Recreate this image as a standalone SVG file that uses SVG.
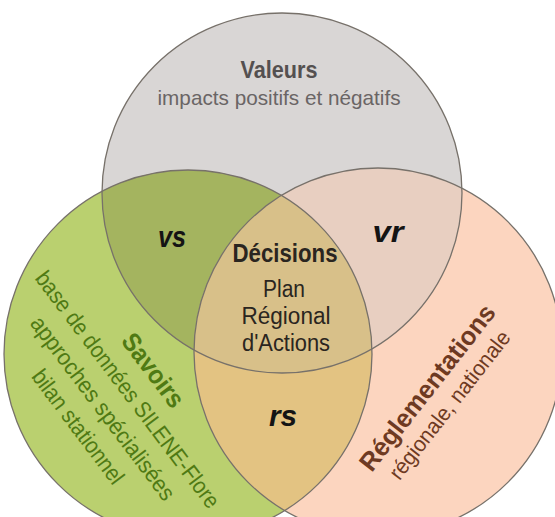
<svg xmlns="http://www.w3.org/2000/svg" xmlns:xlink="http://www.w3.org/1999/xlink" width="555" height="517" viewBox="0 0 555 517">
  <style>
    .ring { fill: none; stroke: #77716a; stroke-width: 1.3; }
    .t { font-family: "Liberation Sans", Arial, sans-serif; text-anchor: middle; }
    .b { font-weight: bold; }
    .pair { font-weight: bold; font-style: italic; font-size: 29px; fill: #141414; }
    .center { fill: #2a2520; }
    .sav { fill: #4f7a14; }
    .reg { fill: #6e3a22; }
  </style>
  <defs>
    <circle id="cV" cx="282" cy="193" r="180"/>
    <circle id="cS" cx="188" cy="354" r="184"/>
    <circle id="cR" cx="378" cy="352" r="184"/>
    <clipPath id="clipV"><use xlink:href="#cV"/></clipPath>
    <clipPath id="clipS"><use xlink:href="#cS"/></clipPath>
    <clipPath id="clipR"><use xlink:href="#cR"/></clipPath>
  </defs>

  <rect width="555" height="517" fill="#ffffff"/>

  <!-- base discs -->
  <g id="valeurs">
    <use xlink:href="#cV" fill="#d9d6d5"/>
  </g>
  <g id="savoirs">
    <use xlink:href="#cS" fill="#bad06f"/>
  </g>
  <g id="reglementations">
    <use xlink:href="#cR" fill="#fcd5bf"/>
  </g>

  <!-- pairwise overlaps -->
  <g id="vs">
    <use xlink:href="#cS" clip-path="url(#clipV)" fill="#a4b45f"/>
  </g>
  <g id="vr">
    <use xlink:href="#cR" clip-path="url(#clipV)" fill="#e8cfc1"/>
  </g>
  <g id="rs">
    <use xlink:href="#cR" clip-path="url(#clipS)" fill="#e3c382"/>
  </g>
  <!-- triple overlap -->
  <g id="decisions">
    <g clip-path="url(#clipV)">
      <use xlink:href="#cR" clip-path="url(#clipS)" fill="#d8c089"/>
    </g>
  </g>

  <!-- outlines -->
  <g id="connectors">
    <use xlink:href="#cV" class="ring"/>
    <use xlink:href="#cS" class="ring"/>
    <use xlink:href="#cR" class="ring"/>
  </g>

  <!-- labels -->
  <g id="labels">
    <text class="t b" x="279" y="78" font-size="24" fill="#545050" textLength="77" lengthAdjust="spacingAndGlyphs">Valeurs</text>
    <text class="t" x="279" y="105" font-size="21" fill="#6a6565" textLength="243" lengthAdjust="spacingAndGlyphs">impacts positifs et négatifs</text>

    <text class="t pair" x="172" y="247" textLength="28" lengthAdjust="spacingAndGlyphs">vs</text>
    <text class="t pair" x="388" y="242" textLength="31" lengthAdjust="spacingAndGlyphs">vr</text>
    <text class="t pair" x="283" y="426" textLength="28" lengthAdjust="spacingAndGlyphs">rs</text>

    <text class="t b center" x="285" y="262" font-size="25" textLength="105" lengthAdjust="spacingAndGlyphs">Décisions</text>
    <text class="t center" x="284" y="297" font-size="23" textLength="42" lengthAdjust="spacingAndGlyphs">Plan</text>
    <text class="t center" x="286" y="324" font-size="23" textLength="89" lengthAdjust="spacingAndGlyphs">Régional</text>
    <text class="t center" x="286" y="351" font-size="23" textLength="88" lengthAdjust="spacingAndGlyphs">d'Actions</text>

    <g transform="translate(127 390) rotate(53)">
      <text class="t b sav" x="0" y="-24" font-size="26" textLength="86" lengthAdjust="spacingAndGlyphs">Savoirs</text>
      <text class="t sav" x="0" y="7" font-size="23" textLength="290" lengthAdjust="spacingAndGlyphs">base de données SILENE-Flore</text>
      <text class="t sav" x="0" y="38" font-size="23" textLength="224" lengthAdjust="spacingAndGlyphs">approches spécialisées</text>
      <text class="t sav" x="0" y="69" font-size="23" textLength="137" lengthAdjust="spacingAndGlyphs">bilan stationnel</text>
    </g>

    <g transform="translate(428 388) rotate(-52)">
      <text class="t b reg" x="0" y="8" font-size="26" textLength="203" lengthAdjust="spacingAndGlyphs">Réglementations</text>
      <text class="t reg" x="0" y="35" font-size="22" textLength="182" lengthAdjust="spacingAndGlyphs">régionale, nationale</text>
    </g>
  </g>
</svg>
